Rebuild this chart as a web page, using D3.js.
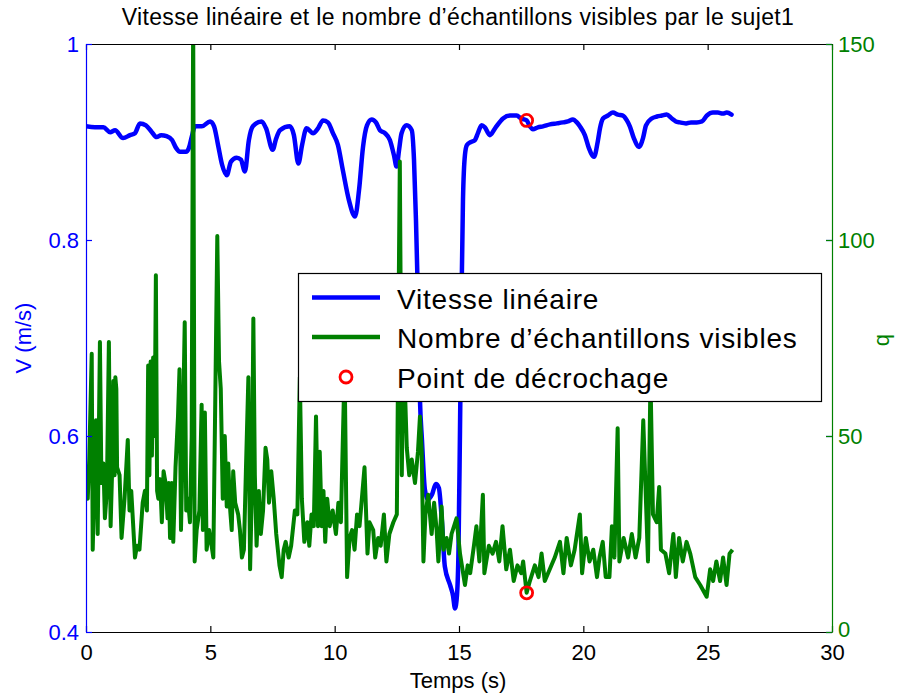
<!DOCTYPE html>
<html>
<head>
<meta charset="utf-8">
<script src="https://cdn.jsdelivr.net/npm/d3@7"></script>
<style>
  html, body { margin: 0; padding: 0; background: #fff; }
  svg { display: block; font-family: "Liberation Sans", Arial, sans-serif; }
</style>
</head>
<body>
<svg id="chart" width="903" height="695"></svg>
<script>
// Linear speed (m/s) over time (s)
const speedTime = [0,0.36,0.70,0.97,1.17,1.49,1.77,1.97,2.17,2.41,2.65,2.84,3.02,3.24,3.46,3.62,3.78,4.02,4.14,4.26,4.38,4.66,4.99,5.15,5.31,5.47,5.66,5.83,6.06,6.23,6.39,6.55,6.71,7.06,7.24,7.51,7.64,7.80,8.20,8.36,8.54,8.69,8.87,9.13,9.33,9.53,9.73,9.93,10.13,10.33,10.57,10.82,10.98,11.14,11.30,11.49,11.66,11.82,12.02,12.22,12.38,12.49,12.59,12.69,12.90,13.10,13.19,13.27,13.35,13.43,13.51,13.63,13.75,13.91,14.07,14.19,14.31,14.43,14.64,14.76,14.84,14.92,14.98,15.04,15.10,15.16,15.24,15.32,15.48,15.64,15.76,15.91,16.04,16.24,16.45,16.77,17.05,17.32,17.49,17.72,17.85,17.97,18.17,18.38,18.66,18.93,19.18,19.38,19.58,19.74,19.86,20.06,20.22,20.43,20.59,20.67,20.79,20.99,21.19,21.39,21.59,21.75,21.87,22.03,22.24,22.40,22.52,22.75,22.96,23.16,23.35,23.56,23.72,23.88,24.13,24.33,24.56,24.77,24.97,25.21,25.41,25.61,25.77,25.96];
const speedValues = [0.916,0.915,0.915,0.910,0.912,0.904,0.907,0.909,0.919,0.917,0.910,0.905,0.907,0.906,0.902,0.894,0.890,0.890,0.894,0.906,0.916,0.916,0.921,0.916,0.897,0.877,0.866,0.880,0.884,0.882,0.870,0.902,0.916,0.921,0.914,0.892,0.903,0.912,0.916,0.907,0.878,0.897,0.914,0.909,0.914,0.922,0.920,0.909,0.897,0.871,0.841,0.824,0.851,0.895,0.917,0.923,0.920,0.912,0.909,0.902,0.887,0.875,0.892,0.909,0.917,0.912,0.882,0.820,0.739,0.637,0.596,0.545,0.535,0.540,0.551,0.547,0.514,0.467,0.448,0.437,0.424,0.438,0.484,0.606,0.739,0.841,0.887,0.897,0.900,0.902,0.909,0.917,0.915,0.907,0.914,0.924,0.927,0.927,0.924,0.922,0.916,0.913,0.915,0.916,0.918,0.919,0.920,0.921,0.923,0.920,0.916,0.907,0.894,0.885,0.902,0.914,0.924,0.927,0.930,0.928,0.927,0.922,0.916,0.904,0.895,0.904,0.917,0.924,0.926,0.927,0.928,0.924,0.921,0.920,0.919,0.920,0.920,0.921,0.927,0.930,0.930,0.929,0.930,0.928];

// Number of visible samples q over time (s)
const countTime = [0,0.07,0.13,0.23,0.27,0.35,0.40,0.47,0.56,0.62,0.70,0.76,0.84,0.92,0.99,1.05,1.10,1.15,1.18,1.22,1.25,1.35,1.43,1.55,1.68,1.75,1.82,1.97,2.05,2.15,2.28,2.37,2.45,2.50,2.55,2.60,2.65,2.70,2.76,2.81,2.86,2.91,2.98,3.05,3.12,3.20,3.28,3.33,3.38,3.45,3.51,3.60,3.70,3.76,3.82,3.88,3.97,4.03,4.10,4.18,4.25,4.31,4.37,4.45,4.56,4.65,4.70,4.78,4.85,4.95,5.05,5.12,5.20,5.28,5.35,5.42,5.50,5.58,5.66,5.72,5.80,5.86,5.92,6.00,6.12,6.19,6.27,6.35,6.43,6.53,6.60,6.67,6.73,6.79,6.86,6.95,7.03,7.12,7.22,7.29,7.36,7.45,7.55,7.65,7.78,7.87,7.95,8.03,8.15,8.25,8.40,8.50,8.60,8.68,8.78,8.90,8.98,9.07,9.16,9.25,9.33,9.40,9.48,9.55,9.62,9.70,9.80,9.92,10.05,10.15,10.25,10.40,10.50,10.60,10.70,10.80,10.90,11.00,11.20,11.32,11.40,11.55,11.63,11.75,11.85,11.98,12.08,12.20,12.36,12.50,12.62,12.70,12.76,12.90,13.00,13.10,13.23,13.35,13.43,13.50,13.57,13.65,13.76,13.90,14.00,14.10,14.17,14.30,14.38,14.50,14.60,14.70,14.90,15.04,15.24,15.35,15.45,15.60,15.70,15.82,15.96,16.02,16.20,16.35,16.49,16.62,16.75,16.90,17.05,17.20,17.35,17.50,17.58,17.72,17.85,18.05,18.20,18.32,18.45,18.65,18.85,19.06,19.20,19.33,19.50,19.65,19.86,19.95,20.10,20.25,20.40,20.55,20.65,20.78,20.90,21.05,21.15,21.25,21.38,21.45,21.62,21.80,21.95,22.10,22.25,22.41,22.50,22.60,22.70,22.80,22.95,23.05,23.12,23.30,23.45,23.62,23.72,23.85,24.00,24.15,24.30,24.50,24.70,24.96,25.10,25.22,25.35,25.50,25.62,25.76,25.88,26.00];
const countValues = [40,34,44,71,21,43,54,25,74,38,43,29,36,74,27,41,64,40,65,62,42,40,24,34,49,31,36,19,22,21,33,36,31,68,40,69,45,70,50,91,36,34,39,28,41,38,29,38,24,38,23,42,55,67,26,45,79,31,34,28,50,158,18,26,31,58,26,56,21,26,22,19,60,101,69,62,34,50,32,43,31,26,41,33,30,26,19,21,41,65,16,36,80,40,22,36,25,31,47,44,33,41,34,25,17,14,21,23,19,22,31,30,65,34,23,28,22,30,27,55,27,46,27,36,23,34,27,31,25,33,28,68,14,24,26,21,30,27,42,20,28,26,19,24,22,30,18,25,28,30,120,40,75,47,40,44,38,46,55,46,18,30,35,25,33,26,18,32,21,24,20,25,29,20,12,17,15,22,27,18,35,15,22,20,23,18,27,16,21,13,17,15,18,10,13,17,14,20,13,16,19,23,15,24,17,21,30,15,24,18,21,14,19,23,14,14,27,19,52,18,24,19,25,19,24,54,37,18,65,30,28,37,21,20,15,25,14,24,18,23,20,14,12,9,16,13,18,13,19,12,20,21];

// Stall point (time, speed, count)
const stallTime = [17.72];
const stallSpeed = [0.922];
const stallCount = [10];

// Axis ticks and labels
const timeTicks = [0, 5, 10, 15, 20, 25, 30];
const speedTicks = [0.4, 0.6, 0.8, 1];
const speedTickLabels = ["0.4", "0.6", "0.8", "1"];
const countTicks = [0, 50, 100, 150];

const titleText = "Vitesse linéaire et le nombre d’échantillons visibles par le sujet1";
const legendLabels = ["Vitesse linéaire", "Nombre d’échantillons visibles", "Point de décrochage"];

const BLUE = "#0000ff", GREEN = "#008000", RED = "#ff0000";

const svg = d3.select("#chart");
const plotLeft = 86, plotRight = 832, plotTop = 44, plotBottom = 632;

const x = d3.scaleLinear().domain([0, 30]).range([plotLeft, plotRight]);
const yL = d3.scaleLinear().domain([0.4, 1]).range([plotBottom, plotTop]);
const yR = d3.scaleLinear().domain([0, 150]).range([plotBottom, plotTop]);

svg.append("defs").append("clipPath").attr("id", "plotClip")
  .append("rect").attr("x", plotLeft).attr("y", plotTop)
  .attr("width", plotRight - plotLeft).attr("height", plotBottom - plotTop);

const plot = svg.append("g").attr("clip-path", "url(#plotClip)");

const speed = speedTime.map((t, i) => [t, speedValues[i]]);
const counts = countTime.map((t, i) => [t, countValues[i]]);

plot.append("path").datum(speed)
  .attr("fill", "none").attr("stroke", BLUE).attr("stroke-width", 4.5)
  .attr("stroke-linejoin", "round").attr("stroke-linecap", "round")
  .attr("d", d3.line().curve(d3.curveMonotoneX).x(d => x(d[0])).y(d => yL(d[1])));

plot.selectAll("circle.stallV").data(stallTime).join("circle").attr("class", "stallV")
  .attr("cx", d => x(d)).attr("cy", (d, i) => yL(stallSpeed[i])).attr("r", 6)
  .attr("fill", "none").attr("stroke", RED).attr("stroke-width", 2.8);

plot.append("path").datum(counts)
  .attr("fill", "none").attr("stroke", GREEN).attr("stroke-width", 4)
  .attr("stroke-linejoin", "round")
  .attr("d", d3.line().x(d => x(d[0])).y(d => yR(d[1])));

plot.selectAll("circle.stallQ").data(stallTime).join("circle").attr("class", "stallQ")
  .attr("cx", d => x(d)).attr("cy", (d, i) => yR(stallCount[i])).attr("r", 6)
  .attr("fill", "none").attr("stroke", RED).attr("stroke-width", 2.8);

// Axes
function styleAxis(g, color, size) {
  g.selectAll(".domain").attr("stroke", color).attr("stroke-width", 1.2);
  g.selectAll(".tick line").attr("stroke", color).attr("stroke-width", 1.2);
  g.selectAll(".tick text").attr("fill", color).style("font-size", size + "px")
    .style("font-family", "'Liberation Sans', Arial, sans-serif");
}

const xBottom = svg.append("g").attr("transform", `translate(0,${plotBottom})`)
  .call(d3.axisBottom(x).tickValues(timeTicks).tickSizeInner(-6).tickSizeOuter(0).tickPadding(12).tickFormat(d3.format("d")));
styleAxis(xBottom, "#000", 22);

const xTop = svg.append("g").attr("transform", `translate(0,${plotTop})`)
  .call(d3.axisTop(x).tickValues(timeTicks).tickSizeInner(-6).tickSizeOuter(0).tickFormat(""));
styleAxis(xTop, "#000", 22);

const yLeftAxis = svg.append("g").attr("transform", `translate(${plotLeft},0)`)
  .call(d3.axisLeft(yL).tickValues(speedTicks).tickSizeInner(-6).tickSizeOuter(0).tickPadding(7)
    .tickFormat((d, i) => speedTickLabels[i]));
styleAxis(yLeftAxis, BLUE, 22);

// speed ticks mirrored on the right edge
const yLeftMirror = svg.append("g").attr("transform", `translate(${plotRight},0)`)
  .call(d3.axisRight(yL).tickValues(speedTicks).tickSizeInner(-6).tickSizeOuter(0).tickFormat(""));
styleAxis(yLeftMirror, BLUE, 22);
yLeftMirror.select(".domain").remove();

const yRightAxis = svg.append("g").attr("transform", `translate(${plotRight},0)`)
  .call(d3.axisRight(yR).tickValues(countTicks).tickSizeInner(-6).tickSizeOuter(0).tickPadding(6).tickFormat(d3.format("d")));
styleAxis(yRightAxis, GREEN, 22);
// the lowest count label sits just above the time labels
yRightAxis.selectAll(".tick text").filter(d => d === 0).attr("dy", "0.2em");

// Axis titles
svg.append("text").attr("x", 458).attr("y", 688).attr("text-anchor", "middle")
  .style("font-size", "22px").attr("fill", "#000").text("Temps (s)");

svg.append("text").attr("transform", "translate(31,338) rotate(-90)").attr("text-anchor", "middle")
  .style("font-size", "22px").attr("fill", BLUE).text("V (m/s)");

svg.append("text").attr("transform", "translate(889,340) rotate(-90)").attr("text-anchor", "middle")
  .style("font-size", "22px").attr("fill", GREEN).text("q");

svg.append("text").attr("x", 458).attr("y", 25).attr("text-anchor", "middle")
  .style("font-size", "23px").style("letter-spacing", "0.35px").attr("fill", "#000").text(titleText);

// Legend
const legend = svg.append("g");
legend.append("rect").attr("x", 298.5).attr("y", 273.5).attr("width", 523).attr("height", 128)
  .attr("fill", "#fff").attr("stroke", "#000").attr("stroke-width", 1.2);

const rowY = [297.5, 337, 377];
legend.append("line").attr("x1", 312).attr("x2", 380).attr("y1", rowY[0]).attr("y2", rowY[0])
  .attr("stroke", BLUE).attr("stroke-width", 4.5);
legend.append("line").attr("x1", 312).attr("x2", 380).attr("y1", rowY[1]).attr("y2", rowY[1])
  .attr("stroke", GREEN).attr("stroke-width", 4.5);
legend.append("circle").attr("cx", 346).attr("cy", rowY[2]).attr("r", 6)
  .attr("fill", "none").attr("stroke", RED).attr("stroke-width", 2.8);

legend.selectAll("text.leg").data(legendLabels).join("text").attr("class", "leg")
  .attr("x", 397).attr("y", (d, i) => rowY[i] + 11)
  .style("font-size", "28px").style("letter-spacing", "0.8px").attr("fill", "#000").text(d => d);
</script>
</body>
</html>
